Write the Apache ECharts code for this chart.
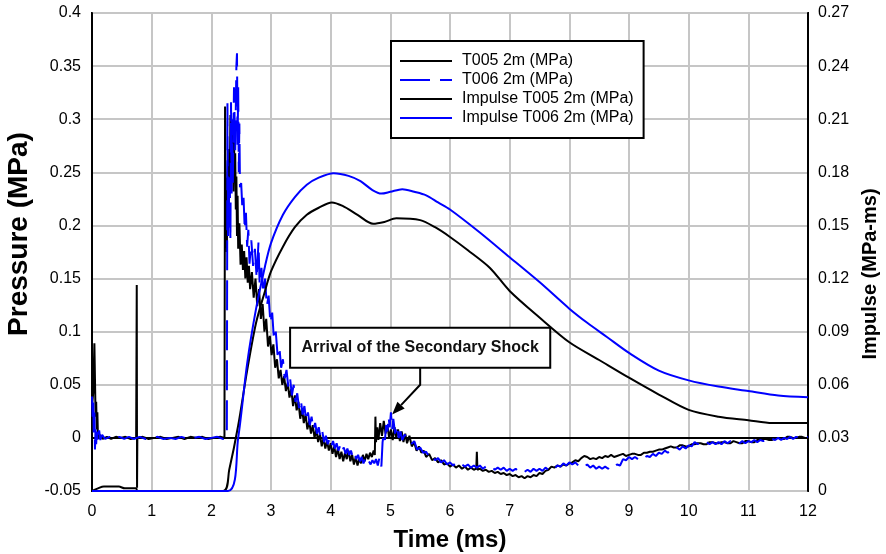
<!DOCTYPE html>
<html>
<head>
<meta charset="utf-8">
<script src="https://cdn.jsdelivr.net/npm/echarts@6/dist/echarts.min.js"></script>
<style>html,body{margin:0;padding:0;background:#fff;}#c{width:886px;height:554px;}</style>
</head>
<body>
<div id="c"></div>
<script>
// ---- data ----
const xTicks = { min: 0, max: 12, step: 1 };
const pressureTicks = { min: -0.05, max: 0.4, step: 0.05 };
const impulseTicks = { min: 0, max: 0.27, step: 0.03 };

const seriesNames = ['T005 2m (MPa)', 'T006 2m (MPa)', 'Impulse T005 2m (MPa)', 'Impulse T006 2m (MPa)'];

// [time ms, pressure MPa]
const t005Pressure = [
[0.00,0.030],[0.02,0.042],[0.04,0.089],[0.05,0.055],[0.06,0.020],[0.07,0.034],[0.08,0.008],[0.09,0.024],[0.10,0.000],[0.13,0.003],[0.18,-0.001],[0.25,0.001],[0.32,-0.001],[0.40,0.001],[0.48,0.000],[0.56,0.001],[0.65,-0.001],[0.74,0.000],[0.75,0.144],[0.755,-0.047],[0.76,0.000],[0.85,0.001],[0.95,-0.001],[1.05,0.000],[1.15,0.001],[1.25,-0.001],[1.35,0.000],[1.45,0.001],[1.55,-0.001],[1.65,0.001],[1.75,0.000],[1.85,0.001],[1.95,-0.001],[2.05,0.000],[2.15,0.001],[2.22,0.000],
[2.23,0.312],[2.24,0.200],[2.25,0.245],[2.26,0.175],[2.27,0.235],[2.28,0.262],[2.29,0.205],[2.30,0.272],[2.31,0.238],[2.32,0.304],[2.33,0.255],[2.34,0.298],[2.35,0.248],[2.36,0.290],[2.37,0.232],[2.38,0.284],[2.39,0.240],[2.40,0.268],[2.41,0.215],[2.42,0.246],[2.43,0.190],[2.44,0.228],[2.45,0.178],[2.47,0.202],[2.49,0.163],[2.51,0.182],[2.53,0.158],[2.55,0.176],[2.57,0.150],[2.59,0.170],[2.61,0.146],[2.63,0.162],[2.65,0.140],[2.68,0.156],[2.71,0.132],[2.74,0.150],[2.77,0.124],[2.80,0.140],[2.83,0.112],[2.86,0.126],[2.89,0.100],[2.92,0.112],[2.95,0.086],[2.98,0.096],[3.01,0.078],[3.04,0.088],[3.07,0.066],[3.10,0.074],[3.13,0.056],[3.16,0.064],[3.19,0.050],[3.22,0.058],[3.25,0.044],[3.28,0.052],[3.31,0.038],[3.34,0.046],[3.37,0.030],[3.40,0.040],[3.43,0.026],[3.46,0.034],[3.49,0.018],[3.52,0.028],[3.55,0.014],[3.58,0.022],[3.61,0.008],[3.64,0.016],[3.67,0.004],[3.70,0.012],[3.73,0.000],[3.76,0.008],[3.79,-0.004],[3.82,0.004],[3.85,-0.008],[3.88,0.000],[3.91,-0.010],[3.94,-0.003],[3.97,-0.012],[4.00,-0.005],[4.03,-0.015],[4.06,-0.008],[4.09,-0.018],[4.12,-0.010],[4.15,-0.020],[4.18,-0.013],[4.21,-0.022],[4.24,-0.014],[4.27,-0.020],[4.30,-0.012],[4.33,-0.022],[4.36,-0.016],[4.39,-0.025],[4.42,-0.018],[4.45,-0.026],[4.48,-0.020],[4.51,-0.024],[4.54,-0.016],[4.57,-0.022],[4.60,-0.015],[4.63,-0.020],[4.66,-0.014],[4.69,-0.018],[4.72,-0.012],[4.74,-0.016],[4.75,0.020],[4.76,-0.004],[4.78,0.010],[4.80,-0.002],[4.83,0.014],[4.86,0.002],[4.89,0.016],[4.92,0.004],[4.95,0.012],[4.98,0.000],[5.01,0.008],[5.04,-0.002],[5.07,0.010],[5.10,0.000],[5.13,0.008],[5.16,-0.003],[5.19,0.006],[5.22,-0.004],[5.25,0.004],[5.28,-0.005],[5.32,0.002],[5.36,-0.008],[5.40,-0.004],[5.44,-0.012],[5.48,-0.008],[5.52,-0.014],[5.56,-0.012],[5.60,-0.018],[5.65,-0.015],[5.70,-0.021],[5.75,-0.019],[5.80,-0.023],[5.85,-0.021],[5.90,-0.025],[5.95,-0.024],[6.00,-0.027],[6.05,-0.025],[6.10,-0.028],[6.15,-0.026],[6.20,-0.029],[6.25,-0.027],[6.30,-0.030],[6.35,-0.028],[6.40,-0.030],[6.44,-0.029],[6.45,-0.013],[6.46,-0.030],[6.50,-0.029],[6.55,-0.031],[6.60,-0.030],[6.65,-0.032],[6.70,-0.031],[6.75,-0.033],[6.80,-0.032],[6.85,-0.034],[6.90,-0.033],[6.95,-0.035],[7.00,-0.034],[7.05,-0.036],[7.10,-0.035],[7.15,-0.037],[7.20,-0.036],[7.25,-0.038],[7.30,-0.036],[7.35,-0.037],[7.40,-0.035],[7.45,-0.036],[7.50,-0.033],[7.55,-0.034],[7.60,-0.031],[7.65,-0.030],[7.70,-0.027],[7.75,-0.028],[7.80,-0.026],[7.85,-0.027],[7.90,-0.025],[7.95,-0.026],[8.00,-0.024],[8.05,-0.023],[8.10,-0.021],[8.15,-0.022],[8.20,-0.019],[8.25,-0.017],[8.30,-0.018],[8.35,-0.020],[8.40,-0.019],[8.45,-0.020],[8.50,-0.018],[8.55,-0.019],[8.60,-0.017],[8.65,-0.018],[8.70,-0.016],[8.75,-0.018],[8.80,-0.017],[8.85,-0.016],[8.90,-0.015],[8.95,-0.017],[9.00,-0.016],[9.05,-0.015],[9.10,-0.015],[9.15,-0.016],[9.20,-0.016],[9.25,-0.014],[9.30,-0.014],[9.35,-0.013],[9.40,-0.013],[9.45,-0.012],[9.50,-0.011],[9.55,-0.011],[9.60,-0.010],[9.65,-0.009],[9.70,-0.008],[9.75,-0.009],[9.80,-0.009],[9.85,-0.007],[9.90,-0.007],[9.95,-0.008],[10.00,-0.008],[10.05,-0.006],[10.10,-0.006],[10.15,-0.005],[10.20,-0.005],[10.25,-0.006],[10.30,-0.006],[10.35,-0.004],[10.40,-0.004],[10.45,-0.005],[10.50,-0.005],[10.55,-0.004],[10.60,-0.004],[10.65,-0.005],[10.70,-0.005],[10.75,-0.003],[10.80,-0.004],[10.85,-0.005],[10.90,-0.005],[10.95,-0.003],[11.00,-0.003],[11.05,-0.004],[11.10,-0.004],[11.15,-0.002],[11.20,-0.002],[11.25,-0.001],[11.30,-0.001],[11.35,-0.002],[11.40,-0.002],[11.45,0.000],[11.50,0.000],[11.55,-0.001],[11.60,-0.001],[11.65,0.001],[11.70,0.001],[11.75,0.000],[11.80,0.000],[11.85,0.001],[11.90,0.001],[11.95,0.000],[12.00,0.000]
];

const t006Pressure = [
[0.00,0.039],[0.01,0.020],[0.02,0.036],[0.03,0.004],[0.04,0.024],[0.05,-0.011],[0.06,0.010],[0.07,-0.006],[0.08,0.006],[0.10,-0.004],[0.12,0.007],[0.14,-0.002],[0.17,0.003],[0.22,-0.001],[0.30,0.001],[0.38,-0.002],[0.46,0.001],[0.54,-0.001],[0.62,0.001],[0.70,-0.001],[0.80,0.001],[0.90,-0.001],[1.00,0.000],[1.10,0.001],[1.20,-0.001],[1.30,0.000],[1.40,-0.001],[1.50,0.001],[1.60,-0.001],[1.70,0.000],[1.80,0.001],[1.90,-0.001],[2.00,0.000],[2.10,0.001],[2.20,-0.001],[2.26,0.002],
[2.27,0.315],[2.28,0.190],[2.29,0.246],[2.30,0.198],[2.31,0.240],[2.32,0.186],[2.33,0.316],[2.34,0.230],[2.35,0.300],[2.36,0.240],[2.38,0.330],[2.40,0.270],[2.42,0.350],[2.43,0.362],[2.44,0.276],[2.45,0.330],[2.46,0.250],[2.47,0.296],[2.48,0.236],[2.50,0.240],[2.52,0.216],[2.54,0.226],[2.56,0.196],[2.58,0.212],[2.60,0.180],[2.62,0.196],[2.64,0.164],[2.67,0.186],[2.70,0.162],[2.73,0.178],[2.76,0.150],[2.79,0.184],[2.81,0.144],[2.84,0.160],[2.87,0.136],[2.90,0.150],[2.93,0.124],[2.96,0.134],[2.99,0.108],[3.02,0.118],[3.05,0.092],[3.08,0.100],[3.11,0.078],[3.14,0.086],[3.17,0.066],[3.20,0.074],[3.23,0.056],[3.26,0.064],[3.29,0.048],[3.32,0.056],[3.35,0.040],[3.38,0.050],[3.41,0.034],[3.44,0.042],[3.47,0.028],[3.50,0.036],[3.53,0.022],[3.56,0.030],[3.59,0.016],[3.62,0.024],[3.65,0.012],[3.68,0.020],[3.71,0.008],[3.74,0.014],[3.77,0.004],[3.80,0.010],[3.83,0.000],[3.86,0.006],[3.89,-0.004],[3.92,0.002],[3.95,-0.006],[3.98,-0.001],[4.01,-0.008],[4.04,-0.003],[4.07,-0.010],[4.10,-0.005],[4.13,-0.012],[4.16,-0.007],[4.19,-0.013],[4.22,-0.009],[4.25,-0.015],[4.28,-0.010],[4.31,-0.016],[4.34,-0.012],[4.37,-0.018],[4.40,-0.014],[4.43,-0.020],[4.46,-0.016],[4.49,-0.022],[4.52,-0.018],[4.55,-0.024],[4.58,-0.020],[4.61,-0.025],[4.64,-0.022],[4.67,-0.025],[4.70,-0.021],[4.73,-0.024],[4.76,-0.020],[4.79,-0.026],[4.82,-0.018],[4.85,-0.027],[4.87,-0.004],[4.89,0.004],[4.91,-0.002],[4.93,0.012],[4.95,0.006],[4.97,0.020],[4.99,0.010],[5.01,0.024],[5.03,0.008],[5.05,0.018],[5.08,0.004],[5.11,0.012],[5.14,0.000],[5.17,0.006],[5.20,-0.002],[5.24,0.003],
[5.30,-0.001],[5.35,-0.006],[5.40,-0.003],[5.45,-0.011],[5.50,-0.009],[5.55,-0.014],[5.60,-0.013],[5.65,-0.018],[5.70,-0.016],[5.75,-0.021],[5.80,-0.019],[5.85,-0.023],[5.90,-0.021],[5.95,-0.025],[6.00,-0.023],[6.05,-0.026],[6.10,-0.024],[6.15,-0.027],[6.20,-0.025],[6.25,-0.027],[6.30,-0.025],[6.35,-0.028],[6.40,-0.026],[6.45,-0.028],[6.50,-0.026],[6.55,-0.029],[6.60,-0.027],[6.65,-0.029],[6.70,-0.027],[6.75,-0.030],[6.80,-0.028],[6.85,-0.030],[6.90,-0.028],[6.95,-0.031],[7.00,-0.029],[7.05,-0.031],[7.10,-0.029],[7.15,-0.032],[7.20,-0.030],[7.25,-0.032],[7.30,-0.030],[7.35,-0.032],[7.40,-0.029],[7.45,-0.031],[7.50,-0.029],[7.55,-0.031],[7.60,-0.028],[7.65,-0.030],[7.70,-0.027],[7.75,-0.029],[7.80,-0.026],[7.85,-0.027],[7.90,-0.024],[7.95,-0.026],[8.00,-0.023],[8.05,-0.025],[8.10,-0.023],[8.15,-0.026],[8.20,-0.024],[8.25,-0.027],[8.30,-0.025],[8.35,-0.028],[8.40,-0.026],[8.45,-0.029],[8.50,-0.027],[8.55,-0.029],[8.60,-0.027],[8.65,-0.029],[8.70,-0.026],[8.75,-0.028],[8.80,-0.025],[8.85,-0.026],[8.90,-0.020],[8.95,-0.021],[9.00,-0.018],[9.05,-0.020],[9.10,-0.018],[9.15,-0.020],[9.20,-0.017],[9.25,-0.019],[9.30,-0.017],[9.35,-0.018],[9.40,-0.015],[9.45,-0.017],[9.50,-0.014],[9.55,-0.015],[9.60,-0.012],[9.65,-0.014],[9.70,-0.011],[9.75,-0.012],[9.80,-0.009],[9.85,-0.011],[9.90,-0.008],[9.95,-0.010],[10.00,-0.007],[10.05,-0.008],[10.10,-0.004],[10.15,-0.006],[10.20,-0.003],[10.25,-0.005],[10.30,-0.004],[10.35,-0.006],[10.40,-0.004],[10.45,-0.006],[10.50,-0.004],[10.55,-0.006],[10.60,-0.003],[10.65,-0.005],[10.70,-0.003],[10.75,-0.005],[10.80,-0.003],[10.85,-0.005],[10.90,-0.003],[10.95,-0.005],[11.00,-0.003],[11.05,-0.004],[11.10,-0.002],[11.15,-0.004],[11.20,-0.002],[11.25,-0.003],[11.30,-0.001],[11.35,-0.003],[11.40,-0.001],[11.45,-0.002],[11.50,0.000],[11.55,-0.002],[11.60,0.000],[11.65,-0.001],[11.70,0.001],[11.75,-0.001],[11.80,0.001],[11.85,0.000],[11.90,0.001],[11.95,0.000],[12.00,0.001]
];

// [time ms, impulse MPa-ms]
const t005Impulse = [
[0.00,0.000],[0.10,0.0015],[0.20,0.0025],[0.45,0.0025],[0.55,0.0015],[0.74,0.0015],[0.76,0.000],[2.20,0.000],[2.30,0.012],[2.45,0.037],[2.60,0.068],[2.75,0.095],[2.90,0.113],[3.00,0.124],[3.20,0.138],[3.40,0.149],[3.60,0.156],[3.80,0.160],[4.02,0.163],[4.20,0.161],[4.45,0.156],[4.71,0.151],[4.90,0.152],[5.10,0.154],[5.50,0.153],[5.75,0.149],[6.00,0.1435],[6.30,0.136],[6.67,0.126],[7.00,0.113],[7.50,0.098],[8.00,0.084],[8.50,0.074],[9.00,0.064],[9.50,0.0545],[10.00,0.0458],[10.50,0.042],[11.00,0.040],[11.40,0.0384],[12.00,0.0384]
];
const t006Impulse = [
[0.00,0.000],[2.28,0.000],[2.45,0.030],[2.60,0.072],[2.75,0.103],[2.90,0.127],[3.00,0.140],[3.20,0.156],[3.40,0.166],[3.60,0.173],[3.80,0.177],[4.05,0.1795],[4.30,0.178],[4.50,0.175],[4.70,0.170],[4.85,0.168],[5.00,0.169],[5.20,0.1705],[5.40,0.169],[5.60,0.167],[5.80,0.163],[6.00,0.159],[6.50,0.146],[7.00,0.132],[7.50,0.118],[8.00,0.103],[8.30,0.095],[8.63,0.087],[9.00,0.078],[9.50,0.068],[10.00,0.0625],[10.50,0.059],[11.00,0.0565],[11.50,0.054],[12.00,0.053]
];

// annotation (data coordinates on the pressure axis)
const noteText = 'Arrival of the Secondary Shock';
const noteBox = [[3.32, 0.1036], [7.68, 0.066]];
const noteArrow = [[5.5, 0.066], [5.5, 0.050], [5.03, 0.022]];

// ---- chart ----
const FONT = "'Liberation Sans', Arial, sans-serif";
const fmt = v => String(+v.toFixed(2));

const chart = echarts.init(document.getElementById('c'), null, { renderer: 'canvas' });
const gridLine = { show: true, lineStyle: { color: '#c6c6c6', width: 2 } };

chart.setOption({
  animation: false,
  backgroundColor: '#fff',
  grid: { left: 92, right: 78, top: 13, bottom: 63, show: true, borderColor: '#000', borderWidth: 2,
          backgroundColor: 'transparent', containLabel: false, outerBoundsMode: 'none' },
  legend: {
    orient: 'vertical', left: 391, top: 41,
    data: seriesNames,
    backgroundColor: '#fff', borderColor: '#000', borderWidth: 2,
    padding: [12, 10, 12, 8], itemWidth: 52, itemHeight: 12, itemGap: 3,
    itemStyle: { opacity: 0 },
    textStyle: { fontFamily: FONT, fontSize: 16, color: '#000', padding: [0, 0, 0, 5] }
  },
  xAxis: {
    type: 'value', min: xTicks.min, max: xTicks.max, interval: xTicks.step,
    name: 'Time (ms)', nameLocation: 'middle', nameGap: 37,
    nameTextStyle: { fontFamily: FONT, fontWeight: 'bold', fontSize: 24, color: '#000' },
    axisLine: { show: true, lineStyle: { color: '#000', width: 2 } },
    axisTick: { show: false },
    axisLabel: { fontFamily: FONT, fontSize: 16, color: '#000', margin: 13, formatter: fmt },
    splitLine: gridLine
  },
  yAxis: [{
    type: 'value', min: pressureTicks.min, max: pressureTicks.max, interval: pressureTicks.step,
    name: 'Pressure (MPa)', nameLocation: 'middle', nameGap: 54, nameRotate: 90,
    nameTextStyle: { fontFamily: FONT, fontWeight: 'bold', fontSize: 28, color: '#000', padding: [0, 0, 0, 36] },
    axisLine: { show: true, lineStyle: { color: '#000', width: 2 } },
    axisTick: { show: false },
    axisLabel: { fontFamily: FONT, fontSize: 16, color: '#000', margin: 11, formatter: fmt },
    splitLine: gridLine
  }, {
    type: 'value', min: impulseTicks.min, max: impulseTicks.max, interval: impulseTicks.step,
    name: 'Impulse (MPa-ms)', nameLocation: 'middle', nameGap: 52, nameRotate: 90,
    nameTextStyle: { fontFamily: FONT, fontWeight: 'bold', fontSize: 20, color: '#000', padding: [0, 44, 0, 0] },
    axisLine: { show: true, lineStyle: { color: '#000', width: 2 } },
    axisTick: { show: false },
    axisLabel: { fontFamily: FONT, fontSize: 16, color: '#000', margin: 10, formatter: fmt },
    splitLine: { show: false }
  }],
  series: [
    { name: seriesNames[0], type: 'line', yAxisIndex: 0, data: t005Pressure, showSymbol: false, symbol: 'none',
      lineStyle: { color: '#000', width: 2 }, itemStyle: { color: '#000' } },
    { name: seriesNames[1], type: 'line', yAxisIndex: 0, data: t006Pressure, showSymbol: false, symbol: 'none',
      lineStyle: { color: '#0000ff', width: 2, type: [30, 10] }, itemStyle: { color: '#0000ff' } },
    { name: seriesNames[2], type: 'line', yAxisIndex: 1, data: t005Impulse, showSymbol: false, symbol: 'none', smooth: 0.3,
      lineStyle: { color: '#000', width: 2 }, itemStyle: { color: '#000' } },
    { name: seriesNames[3], type: 'line', yAxisIndex: 1, data: t006Impulse, showSymbol: false, symbol: 'none', smooth: 0.3,
      lineStyle: { color: '#0000ff', width: 2 }, itemStyle: { color: '#0000ff' } }
  ]
});

// annotation placed from data coordinates
const px = p => chart.convertToPixel({ xAxisIndex: 0, yAxisIndex: 0 }, p);
const b0 = px(noteBox[0]), b1 = px(noteBox[1]);
const a = noteArrow.map(px);
const tip = a[a.length - 1], prev = a[a.length - 2];
const ang = Math.atan2(tip[1] - prev[1], tip[0] - prev[0]);
const L = 13, W = 5;
const base = [tip[0] - L * Math.cos(ang), tip[1] - L * Math.sin(ang)];
const head = [tip,
  [base[0] + W * Math.sin(ang), base[1] - W * Math.cos(ang)],
  [base[0] - W * Math.sin(ang), base[1] + W * Math.cos(ang)]];
chart.setOption({
  graphic: [
    { type: 'polyline', z: 100, shape: { points: [a[0], a[1], base] }, style: { stroke: '#000', lineWidth: 2, fill: null } },
    { type: 'polygon', z: 100, shape: { points: head }, style: { fill: '#000' } },
    { type: 'rect', z: 100, shape: { x: b0[0], y: b0[1], width: b1[0] - b0[0], height: b1[1] - b0[1] },
      style: { fill: '#fff', stroke: '#000', lineWidth: 2 } },
    { type: 'text', z: 101, x: (b0[0] + b1[0]) / 2, y: (b0[1] + b1[1]) / 2,
      style: { text: noteText, fill: '#111', font: "bold 16px 'Liberation Sans', Arial, sans-serif", align: 'center', verticalAlign: 'middle' } }
  ]
});
</script>
</body>
</html>
